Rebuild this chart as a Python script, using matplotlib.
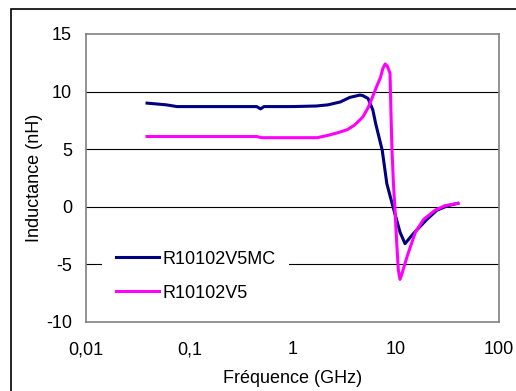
import matplotlib
matplotlib.use("Agg")
import matplotlib.pyplot as plt
from matplotlib.patches import Rectangle

plt.rcParams['font.family'] = ['Liberation Sans', 'DejaVu Sans']
plt.rcParams['axes.unicode_minus'] = False

# Data
freq_mc = [0.039, 0.06, 0.076, 0.2, 0.45, 0.49, 0.53, 1.0, 1.7, 2.2, 2.9, 3.6,
           4.5, 4.8, 5.4, 6.0, 6.4, 7.4, 8.2, 9.4, 11.0, 12.3, 14.9, 20, 25, 32, 40]
ind_mc = [9.0, 8.85, 8.7, 8.7, 8.7, 8.5, 8.7, 8.7, 8.75, 8.85, 9.1, 9.5,
          9.7, 9.65, 9.4, 8.4, 7.2, 4.9, 2.0, 0.0, -2.2, -3.2, -2.3, -1.1, -0.3, 0.1, 0.3]

freq_v5 = [0.039, 0.2, 0.45, 0.5, 1.0, 1.74, 2.2, 2.8, 3.4, 4.0, 4.8, 5.4, 6.0,
           6.5, 7.1, 7.5, 7.9, 8.3, 8.8, 9.0, 9.2, 9.5, 9.8, 10.2, 10.6, 11.0,
           11.5, 12.9, 15.5, 18.6, 24, 30, 40]
ind_v5 = [6.1, 6.1, 6.1, 6.0, 6.0, 6.0, 6.2, 6.45, 6.7, 7.1, 7.8, 8.6, 9.6,
          10.4, 11.2, 12.0, 12.4, 12.2, 11.6, 8.0, 4.9, 2.0, 0.0, -3.0, -5.5, -6.3,
          -5.8, -4.3, -2.2, -1.1, -0.3, 0.1, 0.3]

series_labels = ['R10102V5MC', 'R10102V5']
xticks = [0.01, 0.1, 1, 10, 100]
xtick_labels = ['0,01', '0,1', '1', '10', '100']
yticks = [-10, -5, 0, 5, 10, 15]

FS = 13

W, H = 516, 391
fig = plt.figure(figsize=(W / 100, H / 100), dpi=100)
fig.patch.set_facecolor('white')

# outer frame
fig.patches.append(Rectangle((11 / W, -0.1), 1.2, 1 - 9 / H + 0.1, transform=fig.transFigure,
                             fill=False, edgecolor='black', linewidth=1.2, clip_on=False))

AX_L, AX_B, AX_W, AX_H = 86, 322, 413, 288
ax = fig.add_axes([AX_L / W, 1 - AX_B / H, AX_W / W, AX_H / H])
ax.set_xscale('log')
ax.set_xlim(0.01, 100)
ax.set_ylim(-10, 15)

ax.plot(freq_mc, ind_mc, color='#000080', lw=2.2, label=series_labels[0], zorder=3)
ax.plot(freq_v5, ind_v5, color='#FF00FF', lw=2.2, label=series_labels[1], zorder=3)

ax.set_xticks(xticks)
ax.set_xticklabels(xtick_labels)
ax.minorticks_off()
ax.set_yticks(yticks)
ax.tick_params(axis='both', length=0, labelsize=FS)
ax.tick_params(axis='x', pad=14)
ax.tick_params(axis='y', pad=10)

for v in [-5, 0, 5, 10]:
    ax.axhline(v, color='black', lw=0.8, zorder=1)

for s in ax.spines.values():
    s.set_color('#808080')
    s.set_linewidth(1.2)

ax.set_xlabel('Fréquence (GHz)', fontsize=FS, labelpad=8)
ax.set_ylabel('Inductance (nH)', fontsize=FS, labelpad=2)

# white background behind the legend (legend area of the reference)
ax.add_patch(Rectangle(((102 - AX_L) / AX_W, (AX_B - 308) / AX_H),
                       (289 - 102) / AX_W, (308 - 240) / AX_H,
                       transform=ax.transAxes, facecolor='white', edgecolor='none', zorder=2))

leg = ax.legend(loc='upper left', bbox_to_anchor=((102 - AX_L) / AX_W, (AX_B - 237) / AX_H),
                borderaxespad=0, frameon=False, fontsize=FS,
                handlelength=2.4, handletextpad=0.22, labelspacing=0.95, borderpad=0.75)
leg.set_zorder(5)

fig.savefig('out.png', dpi=100, facecolor='white')
